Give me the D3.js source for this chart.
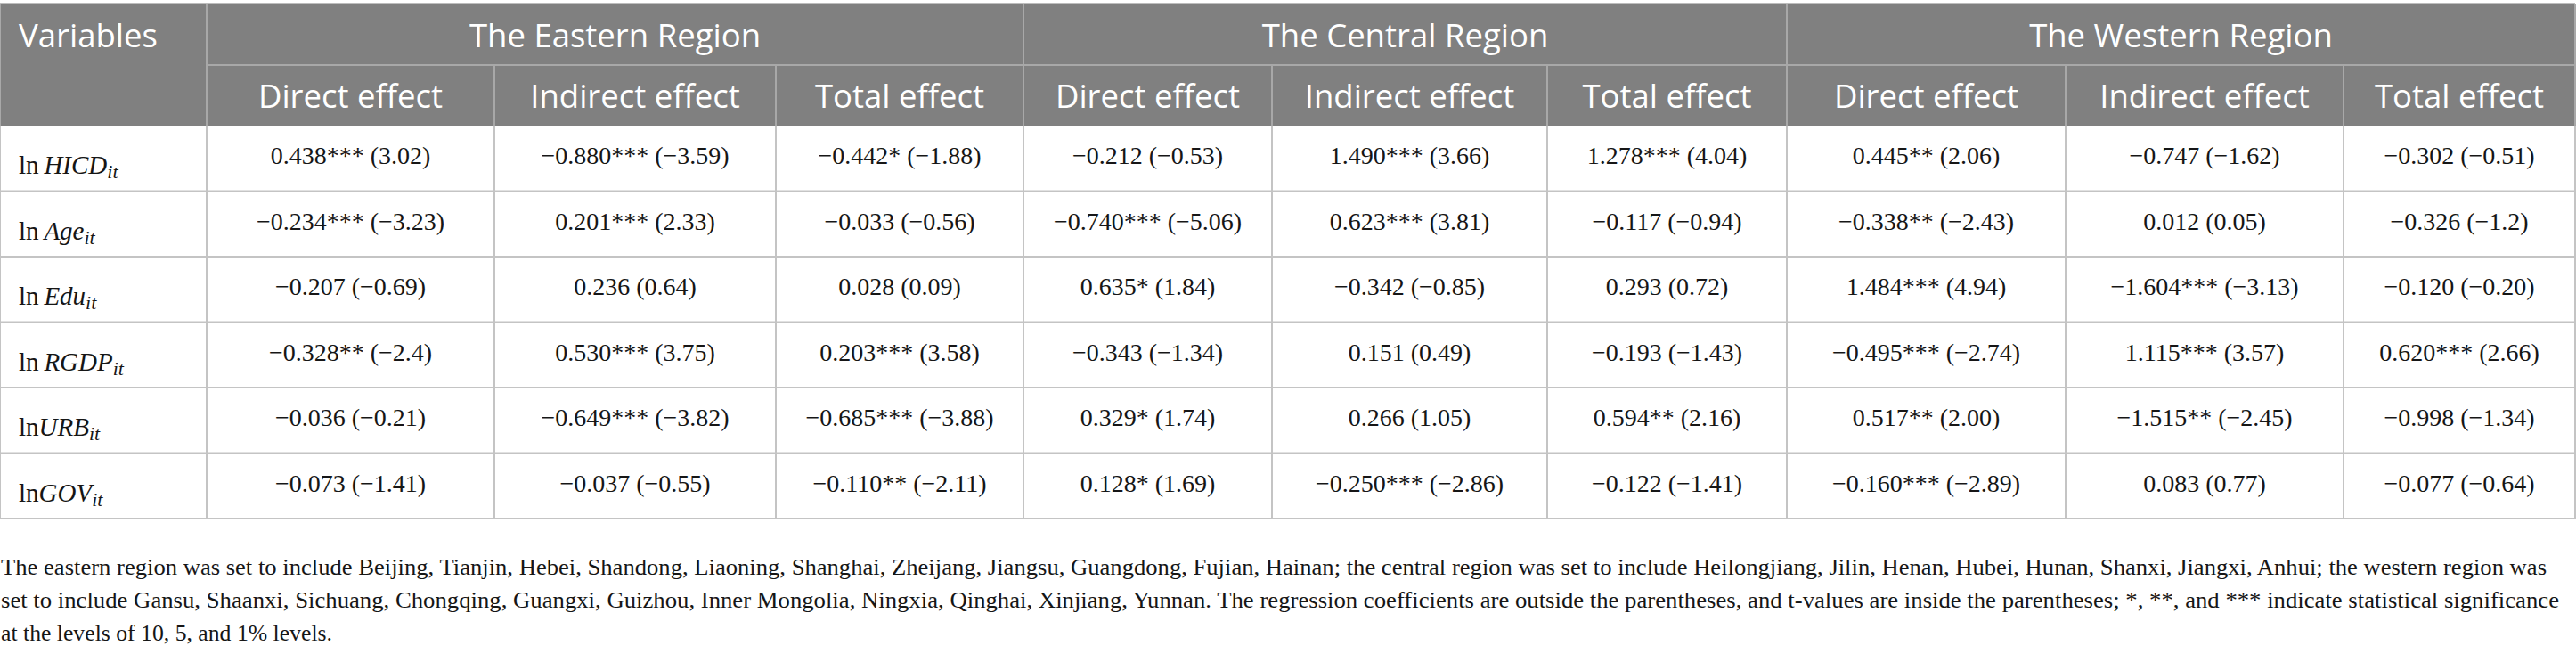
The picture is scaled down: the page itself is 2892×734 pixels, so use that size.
<!DOCTYPE html>
<html>
<head>
<meta charset="utf-8">
<script src="https://cdn.jsdelivr.net/npm/d3@7"></script>
<style>
  html, body { margin: 0; padding: 0; background: #fff; }
  svg { display: block; }
</style>
</head>
<body>
<div id="chart"></div>
<script>
// ---------- data ----------
const regions = ["The Eastern Region", "The Central Region", "The Western Region"];
const effects = ["Direct effect", "Indirect effect", "Total effect"];
const variables = ["HICD", "Age", "Edu", "RGDP", "URB", "GOV"];
const lnSpaced = [true, true, true, true, false, false];

const rowHICD = ["0.438*** (3.02)", "\u22120.880*** (\u22123.59)", "\u22120.442* (\u22121.88)",
                 "\u22120.212 (\u22120.53)", "1.490*** (3.66)", "1.278*** (4.04)",
                 "0.445** (2.06)", "\u22120.747 (\u22121.62)", "\u22120.302 (\u22120.51)"];
const rowAge  = ["\u22120.234*** (\u22123.23)", "0.201*** (2.33)", "\u22120.033 (\u22120.56)",
                 "\u22120.740*** (\u22125.06)", "0.623*** (3.81)", "\u22120.117 (\u22120.94)",
                 "\u22120.338** (\u22122.43)", "0.012 (0.05)", "\u22120.326 (\u22121.2)"];
const rowEdu  = ["\u22120.207 (\u22120.69)", "0.236 (0.64)", "0.028 (0.09)",
                 "0.635* (1.84)", "\u22120.342 (\u22120.85)", "0.293 (0.72)",
                 "1.484*** (4.94)", "\u22121.604*** (\u22123.13)", "\u22120.120 (\u22120.20)"];
const rowRGDP = ["\u22120.328** (\u22122.4)", "0.530*** (3.75)", "0.203*** (3.58)",
                 "\u22120.343 (\u22121.34)", "0.151 (0.49)", "\u22120.193 (\u22121.43)",
                 "\u22120.495*** (\u22122.74)", "1.115*** (3.57)", "0.620*** (2.66)"];
const rowURB  = ["\u22120.036 (\u22120.21)", "\u22120.649*** (\u22123.82)", "\u22120.685*** (\u22123.88)",
                 "0.329* (1.74)", "0.266 (1.05)", "0.594** (2.16)",
                 "0.517** (2.00)", "\u22121.515** (\u22122.45)", "\u22120.998 (\u22121.34)"];
const rowGOV  = ["\u22120.073 (\u22121.41)", "\u22120.037 (\u22120.55)", "\u22120.110** (\u22122.11)",
                 "0.128* (1.69)", "\u22120.250*** (\u22122.86)", "\u22120.122 (\u22121.41)",
                 "\u22120.160*** (\u22122.89)", "0.083 (0.77)", "\u22120.077 (\u22120.64)"];
const rows = [rowHICD, rowAge, rowEdu, rowRGDP, rowURB, rowGOV];

const footnoteLines = [
  "The eastern region was set to include Beijing, Tianjin, Hebei, Shandong, Liaoning, Shanghai, Zheijang, Jiangsu, Guangdong, Fujian, Hainan; the central region was set to include Heilongjiang, Jilin, Henan, Hubei, Hunan, Shanxi, Jiangxi, Anhui; the western region was",
  "set to include Gansu, Shaanxi, Sichuang, Chongqing, Guangxi, Guizhou, Inner Mongolia, Ningxia, Qinghai, Xinjiang, Yunnan. The regression coefficients are outside the parentheses, and t-values are inside the parentheses; *, **, and *** indicate statistical significance",
  "at the levels of 10, 5, and 1% levels."
];

// ---------- layout ----------
const W = 2892, H = 734;
const colEdges = [0, 232, 555, 871, 1149, 1428, 1737, 2006, 2319, 2631, 2891];
const tableTop = 4, h1 = 73, h2 = 141, rowH = 73.5;

const sansFont = "'Open Sans', 'Noto Sans', sans-serif";
const serifFont = "'Liberation Serif', 'Times New Roman', serif";
const headerBg = "#808080";
const headerLine = "#a8a8a8";
const gridLine = "#c4c4c4";
const inkColor = "#161616";
const headSize = 36.5;

const svg = d3.select("#chart").append("svg")
  .attr("width", W).attr("height", H);

const y = d3.scaleLinear().domain([0, rows.length]).range([h2, h2 + rowH * rows.length]);
const tableBottom = y(rows.length);

// header background
svg.append("rect").attr("x", 0).attr("y", tableTop).attr("width", colEdges[10]).attr("height", h2 - tableTop)
  .attr("fill", headerBg);

// top border
svg.append("line").attr("x1", 0).attr("x2", colEdges[10]).attr("y1", tableTop).attr("y2", tableTop)
  .attr("stroke", "#bdbdbd").attr("stroke-width", 2);

// header lines
const hg = svg.append("g");
hg.append("line").attr("x1", colEdges[1]).attr("x2", colEdges[10])
  .attr("y1", h1).attr("y2", h1).attr("stroke", headerLine).attr("stroke-width", 2);
[0, 1, 4, 7, 10].forEach(i => {
  hg.append("line").attr("x1", colEdges[i]).attr("x2", colEdges[i])
    .attr("y1", tableTop).attr("y2", h2).attr("stroke", headerLine).attr("stroke-width", 2);
});
[2, 3, 5, 6, 8, 9].forEach(i => {
  hg.append("line").attr("x1", colEdges[i]).attr("x2", colEdges[i])
    .attr("y1", h1).attr("y2", h2).attr("stroke", headerLine).attr("stroke-width", 2);
});

// header text
svg.append("text").attr("x", 21).attr("y", 53)
  .attr("font-family", sansFont).attr("font-size", headSize).attr("fill", "#fff")
  .text("Variables");

svg.append("g").selectAll("text").data(regions).join("text")
  .attr("x", (d, i) => (colEdges[1 + i * 3] + colEdges[4 + i * 3]) / 2)
  .attr("y", 53)
  .attr("text-anchor", "middle")
  .attr("font-family", sansFont).attr("font-size", headSize).attr("fill", "#fff")
  .text(d => d);

const subHeads = d3.range(9).map(i => effects[i % 3]);
svg.append("g").selectAll("text").data(subHeads).join("text")
  .attr("x", (d, i) => (colEdges[1 + i] + colEdges[2 + i]) / 2)
  .attr("y", 121)
  .attr("text-anchor", "middle")
  .attr("font-family", sansFont).attr("font-size", headSize).attr("fill", "#fff")
  .text(d => d);

// body grid
const grid = svg.append("g");
d3.range(1, rows.length + 1).forEach(r => {
  grid.append("line").attr("x1", 0).attr("x2", colEdges[10])
    .attr("y1", y(r)).attr("y2", y(r)).attr("stroke", gridLine).attr("stroke-width", 2);
});
colEdges.forEach(x => {
  grid.append("line").attr("x1", x).attr("x2", x).attr("y1", h2).attr("y2", tableBottom)
    .attr("stroke", gridLine).attr("stroke-width", 2);
});

// row labels
const labels = svg.append("g").selectAll("text").data(variables).join("text")
  .attr("x", 21)
  .attr("y", (d, i) => y(i) + 54)
  .attr("font-family", serifFont).attr("font-size", 29).attr("fill", inkColor);
labels.append("tspan").text((d, i) => lnSpaced[i] ? "ln\u2009" : "ln");
labels.append("tspan").attr("font-style", "italic").text(d => d);
labels.append("tspan").attr("font-style", "italic").attr("font-size", 22).attr("dy", 5).text("it");

// cells
const cellData = [];
rows.forEach((row, r) => row.forEach((v, c) => cellData.push({ r, c, v })));
svg.append("g").selectAll("text").data(cellData).join("text")
  .attr("x", d => (colEdges[1 + d.c] + colEdges[2 + d.c]) / 2)
  .attr("y", d => y(d.r) + 43)
  .attr("text-anchor", "middle")
  .attr("font-family", serifFont).attr("font-size", 28).attr("fill", inkColor)
  .text(d => d.v);

// footnote
const fnWidths = [2858, 2872, 372];
svg.append("g").selectAll("text").data(footnoteLines).join("text")
  .attr("x", 1)
  .attr("y", (d, i) => 645 + i * 36.8)
  .attr("font-family", serifFont).attr("font-size", 25.5).attr("fill", inkColor)
  .attr("textLength", (d, i) => fnWidths[i])
  .attr("lengthAdjust", "spacingAndGlyphs")
  .text(d => d);
</script>
</body>
</html>
